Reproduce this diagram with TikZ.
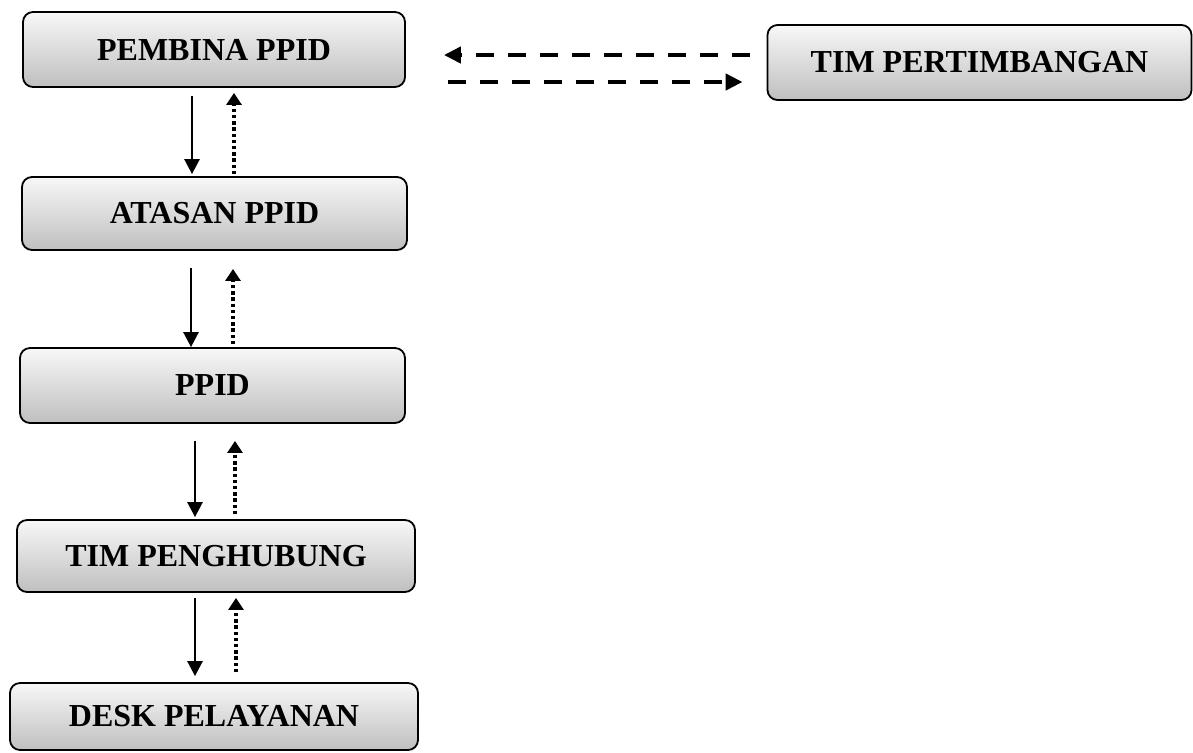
\documentclass[tikz,border=0pt]{standalone}
\usepackage{fontspec}
\setmainfont{Liberation Serif}
\usetikzlibrary{arrows.meta,calc}
\tikzset{
  box/.style={draw=black, line width=0.9pt, rounded corners=5pt, top color=gray!6, bottom color=gray!50,
    inner sep=0pt, font=\fontsize{16}{18}\selectfont\bfseries, text=black},
  down/.style={line width=1.3pt, -{Triangle[width=7.5pt,length=7.5pt]}},
  up/.style={line width=1.7pt, dash pattern=on 1.7pt off 1.4pt, -{Triangle[width=7.5pt,length=6pt]}},
  side/.style={line width=2.1pt, dash pattern=on 9pt off 7pt, -{Triangle[width=8pt,length=8.5pt]}}
}
\begin{document}
\begin{tikzpicture}[x=0.5pt,y=-0.5pt]
\useasboundingbox (0,0) rectangle (1193,752);
\node[box, minimum width=191pt, minimum height=37.5pt] (A) at (214,49.5) {PEMBINA PPID};
\node[box, minimum width=192.5pt, minimum height=36.5pt] (B) at (214.5,213.5) {ATASAN PPID};
\node[box, minimum width=192.5pt, minimum height=37.5pt] (C) at (212.5,385.5) {PPID};
\node[box, minimum width=199pt, minimum height=36pt] (D) at (216,556) {TIM PENGHUBUNG};
\node[box, minimum width=204pt, minimum height=33.5pt] (E) at (214,716.5) {DESK PELAYANAN};
\node[box, minimum width=212pt, minimum height=37.5pt] (T) at (979.5,62.5) {TIM PERTIMBANGAN};
% vertical arrows
\draw[down] ($(A.south)+(-22,8)$) -- ($(A.south |- B.north)+(-22,-2)$);
\draw[up] ($(A.south |- B.north)+(20,-2)$) -- ($(A.south)+(20,5)$);
\draw[down] ($(B.south)+(-23.5,17)$) -- ($(B.south |- C.north)+(-23.5,0)$);
\draw[up] ($(B.south |- C.north)+(18.5,-3)$) -- ($(B.south)+(18.5,18)$);
\draw[down] ($(C.south)+(-17.5,17)$) -- ($(C.south |- D.north)+(-17.5,-2)$);
\draw[up] ($(C.south |- D.north)+(22.5,-5)$) -- ($(C.south)+(22.5,17)$);
\draw[down] ($(D.south)+(-21,5)$) -- ($(D.south |- E.north)+(-21,-6)$);
\draw[up] ($(D.south |- E.north)+(20,-10)$) -- ($(D.south)+(20,5)$);
% horizontal dashed arrows
\draw[side] ($(T.west)+(-17,-7.5)$) -- ($(A.east |- T.west)+(38,-7.5)$);
\draw[side] ($(A.east |- T.west)+(42,19.5)$) -- ($(T.west)+(-24,19.5)$);
\end{tikzpicture}
\end{document}
